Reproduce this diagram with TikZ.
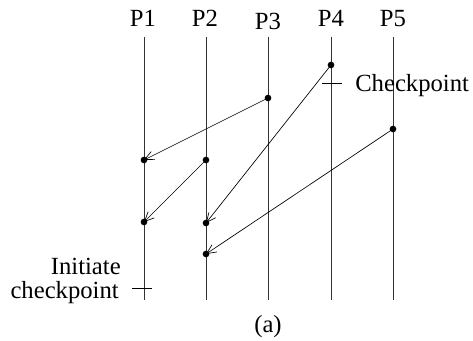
\documentclass[tikz,border=0pt]{standalone}
\usepackage{fontspec}
\setmainfont{Liberation Serif}
\usetikzlibrary{arrows.meta}
\begin{document}
\begin{tikzpicture}[x=0.75pt,y=-0.75pt,
  proc/.style={line width=0.7pt,draw=black!80},
  msg/.style={line width=0.5pt,-{Straight Barb[length=7pt,width=6.5pt]}},
  tick/.style={line width=0.6pt},
  ev/.style={circle,fill=black,inner sep=0pt,minimum size=5pt},
  lbl/.style={font=\fontsize{18.5}{18}\selectfont,inner sep=0pt}]
\useasboundingbox (0,0) rectangle (473,341);
% process labels
\node[lbl,anchor=base] (p1) at (143,27) {P1};
\node[lbl,anchor=base] (p2) at (205,27) {P2};
\node[lbl,anchor=base] (p3) at (268,29.5) {P3};
\node[lbl,anchor=base] (p4) at (331,27) {P4};
\node[lbl,anchor=base] (p5) at (393,27) {P5};
% process lines
\foreach \n/\x in {1/144,2/206,3/268,4/331,5/393}{
  \coordinate (t\n) at (\x,37);
  \coordinate (b\n) at (\x,300);
  \draw[proc] (t\n) -- (b\n);
}
% events
\node[ev] (e4) at (331,65) {};
\node[ev] (e3) at (268,98) {};
\node[ev] (e5) at (393,129) {};
\node[ev] (e1a) at (144,160) {};
\node[ev] (e2a) at (206,160) {};
\node[ev] (e1b) at (144,222) {};
\node[ev] (e2b) at (206,223) {};
\node[ev] (e2c) at (206,254) {};
% messages
\draw[msg] (e3.center) -- (e1a.center);
\draw[msg] (e2a.center) -- (e1b.center);
\draw[msg] (e4.center) -- (e2b.center);
\draw[msg] (e5.center) -- (e2c.center);
% checkpoints
\coordinate (c4l) at (322,83);
\coordinate (c4r) at (342,83);
\draw[tick] (c4l) -- (c4r);
\node[lbl,anchor=base west] (cp) at (355,92) {Checkpoint};
\coordinate (c1l) at (132,288);
\coordinate (c1r) at (152,288);
\draw[tick] (c1l) -- (c1r);
\node[lbl,anchor=base east] (ic1) at (121,274.5) {Initiate};
\node[lbl,anchor=base east] (ic2) at (119,298) {checkpoint};
\node[lbl,anchor=base] (cap) at (268,332) {(a)};
\end{tikzpicture}
\end{document}
